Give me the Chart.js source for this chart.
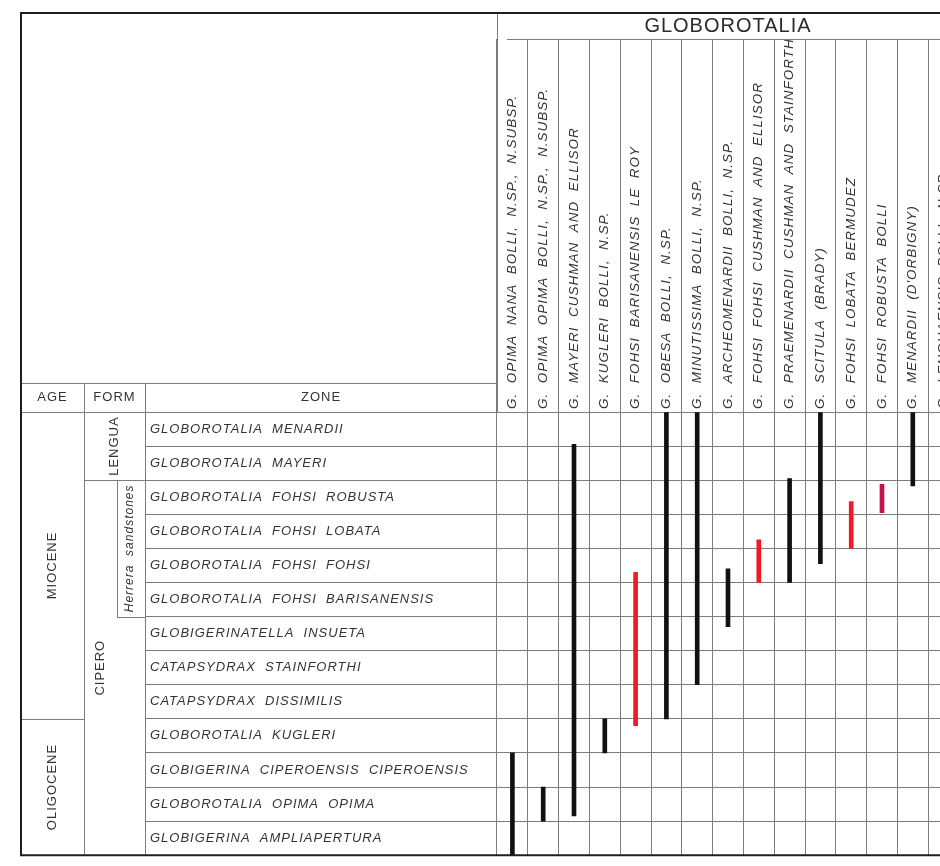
<!DOCTYPE html>
<html>
<head>
<meta charset="utf-8">
<script src="https://cdn.jsdelivr.net/npm/chart.js@4.4.1/dist/chart.umd.min.js"></script>
<style>
  html, body { margin: 0; padding: 0; background: #fff; overflow: hidden; }
  #wrap { width: 960px; height: 866px; }
</style>
</head>
<body>
<div id="wrap"><canvas id="rangeChart" width="960" height="866"></canvas></div>
<script>
// species columns (all Globorotalia)
const species = [
  "G.  OPIMA  NANA  BOLLI,  N.SP.,  N.SUBSP.",
  "G.  OPIMA  OPIMA  BOLLI,  N.SP.,  N.SUBSP.",
  "G.  MAYERI  CUSHMAN  AND  ELLISOR",
  "G.  KUGLERI  BOLLI,  N.SP.",
  "G.  FOHSI  BARISANENSIS  LE  ROY",
  "G.  OBESA  BOLLI,  N.SP.",
  "G.  MINUTISSIMA  BOLLI,  N.SP.",
  "G.  ARCHEOMENARDII  BOLLI,  N.SP.",
  "G.  FOHSI  FOHSI  CUSHMAN  AND  ELLISOR",
  "G.  PRAEMENARDII  CUSHMAN  AND  STAINFORTH",
  "G.  SCITULA  (BRADY)",
  "G.  FOHSI  LOBATA  BERMUDEZ",
  "G.  FOHSI  ROBUSTA  BOLLI",
  "G.  MENARDII  (D'ORBIGNY)",
  "G.  LENGUAENSIS  BOLLI,  N.SP."
];

// zone rows, youngest at the top
const zones = [
  "GLOBOROTALIA  MENARDII",
  "GLOBOROTALIA  MAYERI",
  "GLOBOROTALIA  FOHSI  ROBUSTA",
  "GLOBOROTALIA  FOHSI  LOBATA",
  "GLOBOROTALIA  FOHSI  FOHSI",
  "GLOBOROTALIA  FOHSI  BARISANENSIS",
  "GLOBIGERINATELLA  INSUETA",
  "CATAPSYDRAX  STAINFORTHI",
  "CATAPSYDRAX  DISSIMILIS",
  "GLOBOROTALIA  KUGLERI",
  "GLOBIGERINA  CIPEROENSIS  CIPEROENSIS",
  "GLOBOROTALIA  OPIMA  OPIMA",
  "GLOBIGERINA  AMPLIAPERTURA"
];

// range of each species in zone units, 0 = top of the Menardii zone, 13 = base of the chart
const rangeTop  = [10, 11, 0.95, 9, 4.7, 0, 0, 4.6, 3.75, 1.95, 0, 2.63, 2.12, 0, null];
const rangeBase = [13, 12, 11.85, 10, 9.2, 9, 8, 6.3, 5, 5, 4.45, 4, 2.95, 2.17, null];
const barColors = ["#111", "#111", "#111", "#111", "#f01a24", "#111", "#111", "#111",
                   "#f01a24", "#111", "#111", "#f01a24", "#c0144a", "#111", "#111"];

// age / formation / member blocks, in zone units
const ageNames = ["MIOCENE", "OLIGOCENE"];
const ageBounds = [0, 9, 13];
const formNames = ["LENGUA", "CIPERO"];
const formBounds = [0, 2, 13];
const memberName = "Herrera  sandstones";
const memberBounds = [2, 6];

const lineCol = "#7c7c7c";
const textCol = "#333";

const tableFrame = {
  id: "tableFrame",
  beforeUpdate(chart) { chart.ctx.letterSpacing = "1px"; },
  beforeDraw(chart) { chart.ctx.letterSpacing = "1px"; },
  afterDraw(chart) {
    const { ctx, chartArea: a, scales: { x, y } } = chart;
    const L = 21, T = 13, R = chart.width, B = a.bottom;
    const cAge = 84, cForm = 145, cMember = 117, hTop = 383;
    const line = (x1, y1, x2, y2) => {
      ctx.beginPath(); ctx.moveTo(x1, y1); ctx.lineTo(x2, y2); ctx.stroke();
    };
    const vtext = (t, cx, cy, font) => {
      ctx.save(); ctx.font = font; ctx.translate(cx, cy); ctx.rotate(-Math.PI / 2);
      ctx.fillText(t, 0, 0); ctx.restore();
    };
    ctx.save();
    ctx.letterSpacing = "1px";
    ctx.strokeStyle = lineCol;
    ctx.lineWidth = 1;
    line(a.left + 0.5, T, a.left + 0.5, a.top);
    line(a.left + 10, x.top + 0.5, R, x.top + 0.5);
    line(L, hTop + 0.5, a.left, hTop + 0.5);
    line(L, a.top + 0.5, cForm, a.top + 0.5);
    line(cAge + 0.5, hTop, cAge + 0.5, B);
    line(cForm + 0.5, hTop, cForm + 0.5, B);
    const fy = Math.round(y.getPixelForValue(formBounds[1])) + 0.5;
    line(cAge, fy, cForm, fy);
    const my1 = Math.round(y.getPixelForValue(memberBounds[0]));
    const my2 = Math.round(y.getPixelForValue(memberBounds[1])) + 0.5;
    line(cMember + 0.5, my1, cMember + 0.5, my2);
    line(cMember, my2, cForm, my2);
    const ay = Math.round(y.getPixelForValue(ageBounds[1])) + 0.5;
    line(L, ay, cAge, ay);

    ctx.fillStyle = textCol;
    ctx.textAlign = "center";
    ctx.textBaseline = "middle";
    ctx.font = '13px "Liberation Sans"';
    const hy = (hTop + a.top) / 2;
    ctx.fillText("AGE", (L + cAge) / 2, hy);
    ctx.fillText("FORM", (cAge + cForm) / 2, hy);
    ctx.fillText("ZONE", (cForm + a.left) / 2, hy);
    const mid = (b, i) => (y.getPixelForValue(b[i]) + y.getPixelForValue(b[i + 1])) / 2;
    ageNames.forEach((n, i) => vtext(n, (L + cAge) / 2, mid(ageBounds, i), '13px "Liberation Sans"'));
    vtext(formNames[0], 114, mid(formBounds, 0), '13px "Liberation Sans"');
    vtext(formNames[1], 100, mid(formBounds, 1), '13px "Liberation Sans"');
    vtext(memberName, 130, mid(memberBounds, 0), 'italic 12px "Liberation Sans"');

    ctx.strokeStyle = "#1e1e1e";
    ctx.lineWidth = 2;
    ctx.beginPath();
    ctx.moveTo(R, T); ctx.lineTo(L, T); ctx.lineTo(L, B); ctx.lineTo(R, B);
    ctx.stroke();
    ctx.restore();
  }
};

const labelFont = { family: "Liberation Sans", size: 13, style: "italic" };
const speciesFont = { family: "Liberation Sans", size: 13.5, style: "italic" };

new Chart(document.getElementById("rangeChart"), {
  type: "bar",
  data: {
    labels: species,
    datasets: [{
      data: species.map((s, i) => rangeTop[i] === null ? null : [rangeTop[i], rangeBase[i]]),
      backgroundColor: barColors,
      barThickness: 4,
      borderWidth: 0
    }]
  },
  options: {
    responsive: false,
    animation: false,
    layout: { padding: { left: 150, right: 1, top: 0, bottom: 4 } },
    plugins: {
      legend: { display: false },
      tooltip: { enabled: false },
      title: {
        display: true,
        text: "GLOBOROTALIA",
        fullSize: false,
        color: "#2b2b2b",
        font: { family: "Liberation Sans", size: 20, weight: "normal" },
        padding: { top: 14, bottom: 1 }
      }
    },
    scales: {
      x: {
        type: "category",
        position: "top",
        offset: true,
        grid: { offset: true, color: lineCol, tickLength: 373 },
        border: { color: lineCol },
        ticks: {
          autoSkip: false, minRotation: 90, maxRotation: 90, padding: -370,
          labelOffset: 16, color: textCol, font: speciesFont
        },
        afterFit(s) { s.height = 373; }
      },
      y: {
        type: "linear",
        position: "left",
        min: 0,
        max: 13,
        reverse: true,
        ticks: { display: false, stepSize: 1 },
        grid: { color: lineCol, drawTicks: false },
        border: { display: false },
        afterFit(s) { s.width = 0; }
      },
      zone: {
        type: "category",
        position: "left",
        labels: zones,
        offset: true,
        grid: { offset: true, drawOnChartArea: false, color: lineCol, tickLength: 352 },
        border: { display: false },
        ticks: { crossAlign: "far", autoSkip: false, color: textCol, font: labelFont },
        afterFit(s) { s.width = 347; }
      }
    }
  },
  plugins: [tableFrame]
});
</script>
</body>
</html>
